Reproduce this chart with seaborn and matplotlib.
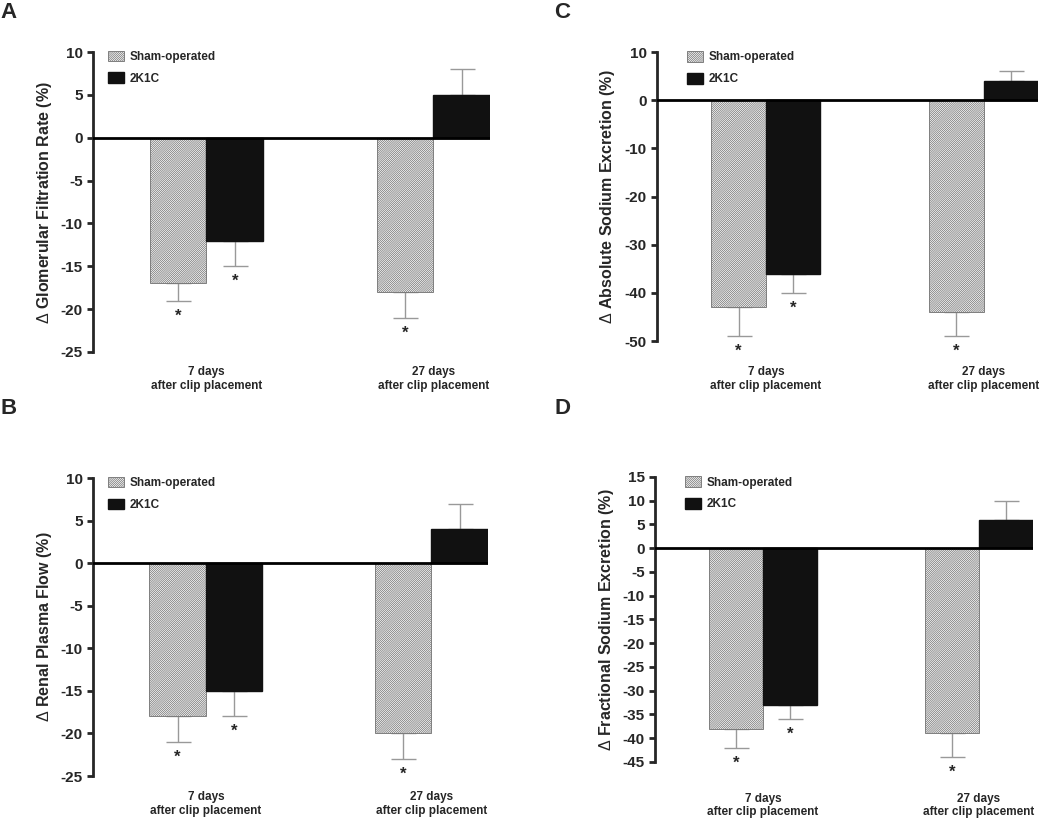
import matplotlib
matplotlib.use("Agg")
import pandas as pd
import matplotlib.pyplot as plt
from matplotlib.patches import Patch
import seaborn as sns

groups = ["Sham-operated", "2K1C"]
times = ["7 days\nafter clip placement", "27 days\nafter clip placement"]

# mean change (%) and SEM, order: [7 days, 27 days]
gfr_sham = [-17, -18]
gfr_2k1c = [-12, 5]
gfr_sham_err = [2, 3]
gfr_2k1c_err = [3, 3]

rpf_sham = [-18, -20]
rpf_2k1c = [-15, 4]
rpf_sham_err = [3, 3]
rpf_2k1c_err = [3, 3]

una_sham = [-43, -44]
una_2k1c = [-36, 4]
una_sham_err = [6, 5]
una_2k1c_err = [4, 2]

fena_sham = [-38, -39]
fena_2k1c = [-33, 6]
fena_sham_err = [4, 5]
fena_2k1c_err = [3, 4]

# significance marks, order: sham 7d, sham 27d, 2K1C 7d, 2K1C 27d
stars = [True, True, True, False]

panels = [
    dict(letter="A", sham=gfr_sham, k=gfr_2k1c, se=gfr_sham_err, ke=gfr_2k1c_err,
         ylabel=r"$\Delta$ Glomerular Filtration Rate (%)", ylim=(-25, 10), step=5,
         rect=[0.0886, 0.5697, 0.378, 0.3667], pad=10, leg=(0.01, 1.04),
         ltxt=(0.0, 0.998)),
    dict(letter="B", sham=rpf_sham, k=rpf_2k1c, se=rpf_sham_err, ke=rpf_2k1c_err,
         ylabel=r"$\Delta$ Renal Plasma Flow (%)", ylim=(-25, 10), step=5,
         rect=[0.0886, 0.0513, 0.376, 0.3643], pad=11, leg=(0.01, 1.04),
         ltxt=(0.0, 0.513)),
    dict(letter="C", sham=una_sham, k=una_2k1c, se=una_sham_err, ke=una_2k1c_err,
         ylabel=r"$\Delta$ Absolute Sodium Excretion (%)", ylim=(-50, 10), step=10,
         rect=[0.6257, 0.583, 0.3629, 0.3533], pad=18, leg=(0.05, 1.04),
         ltxt=(0.528, 0.998)),
    dict(letter="D", sham=fena_sham, k=fena_2k1c, se=fena_sham_err, ke=fena_2k1c_err,
         ylabel=r"$\Delta$ Fractional Sodium Excretion (%)", ylim=(-45, 15), step=5,
         rect=[0.6238, 0.0685, 0.36, 0.3484], pad=22, leg=(0.05, 1.04),
         ltxt=(0.528, 0.513)),
]

sns.set_style("ticks")
plt.rcParams["font.family"] = ["Liberation Sans", "DejaVu Sans"]
plt.rcParams["font.weight"] = "bold"
plt.rcParams["axes.unicode_minus"] = False
plt.rcParams["mathtext.fontset"] = "custom"
plt.rcParams["mathtext.rm"] = "Liberation Sans:weight=normal"
plt.rcParams["mathtext.it"] = "Liberation Sans:weight=normal"
plt.rcParams["mathtext.default"] = "rm"
plt.rcParams["hatch.linewidth"] = 0.5

HATCH = "/" * 16
SHAM_EDGE = "#707070"

fig = plt.figure(figsize=(10.5, 8.18), dpi=100)

for p in panels:
    ax = fig.add_axes(p["rect"])
    df = pd.DataFrame({
        "time": times * 2,
        "group": [groups[0]] * 2 + [groups[1]] * 2,
        "value": p["sham"] + p["k"],
        "err": p["se"] + p["ke"],
    })
    sns.barplot(data=df, x="time", y="value", hue="group", order=times,
                hue_order=groups, width=0.5, errorbar=None, legend=False,
                palette=["white", "#111111"], ax=ax, zorder=2)

    sham_bars, k_bars = ax.containers[0], ax.containers[1]
    for bar in sham_bars:
        bar.set_facecolor("white")
        bar.set_edgecolor(SHAM_EDGE)
        bar.set_hatch(HATCH)
        bar.set_linewidth(0.6)
    for bar in k_bars:
        bar.set_facecolor("#111111")
        bar.set_edgecolor("#111111")

    i = 0
    for cont, g in zip([sham_bars, k_bars], groups):
        sub = df[df["group"] == g]
        for bar, (_, row) in zip(cont, sub.iterrows()):
            x = bar.get_x() + bar.get_width() / 2
            h = bar.get_height()
            lo = row["err"] if h < 0 else 0
            hi = row["err"] if h > 0 else 0
            ax.errorbar(x, h, yerr=[[lo], [hi]], fmt="none", ecolor="#999999",
                        elinewidth=1, capsize=9, capthick=1, zorder=1)
            if stars[i]:
                ax.annotate("*", (x, h - lo), xytext=(0, -11),
                            textcoords="offset points", ha="center",
                            va="center", fontsize=12, fontweight="bold")
            i += 1

    ax.axhline(0, color="black", lw=2, zorder=3)
    ax.set_xlim(-0.5, 1.25)
    ax.set_ylim(*p["ylim"])
    lo_, hi_ = p["ylim"]
    ax.set_yticks(range(lo_, hi_ + 1, p["step"]))
    ax.set_xlabel("")
    ax.set_ylabel(p["ylabel"], fontsize=11.5, fontweight="bold", labelpad=5)
    sns.despine(ax=ax, bottom=True)
    ax.spines["left"].set_linewidth(2)
    ax.tick_params(axis="y", width=2, length=4, labelsize=11)
    ax.tick_params(axis="x", length=0, pad=p["pad"], labelsize=8.5)
    for t in ax.get_xticklabels() + ax.get_yticklabels():
        t.set_fontweight("bold")

    handles = [Patch(facecolor="white", edgecolor=SHAM_EDGE, hatch=HATCH, lw=0.6),
               Patch(facecolor="#111111", edgecolor="#111111")]
    ax.legend(handles, groups, loc="upper left", bbox_to_anchor=p["leg"],
              frameon=False, fontsize=8.5, handlelength=1.4, handleheight=1.0,
              labelspacing=0.8, handletextpad=0.5)

    fig.text(p["ltxt"][0], p["ltxt"][1], p["letter"], fontsize=16,
             fontweight="bold", va="top", ha="left")

fig.savefig("out.png", dpi=100)
